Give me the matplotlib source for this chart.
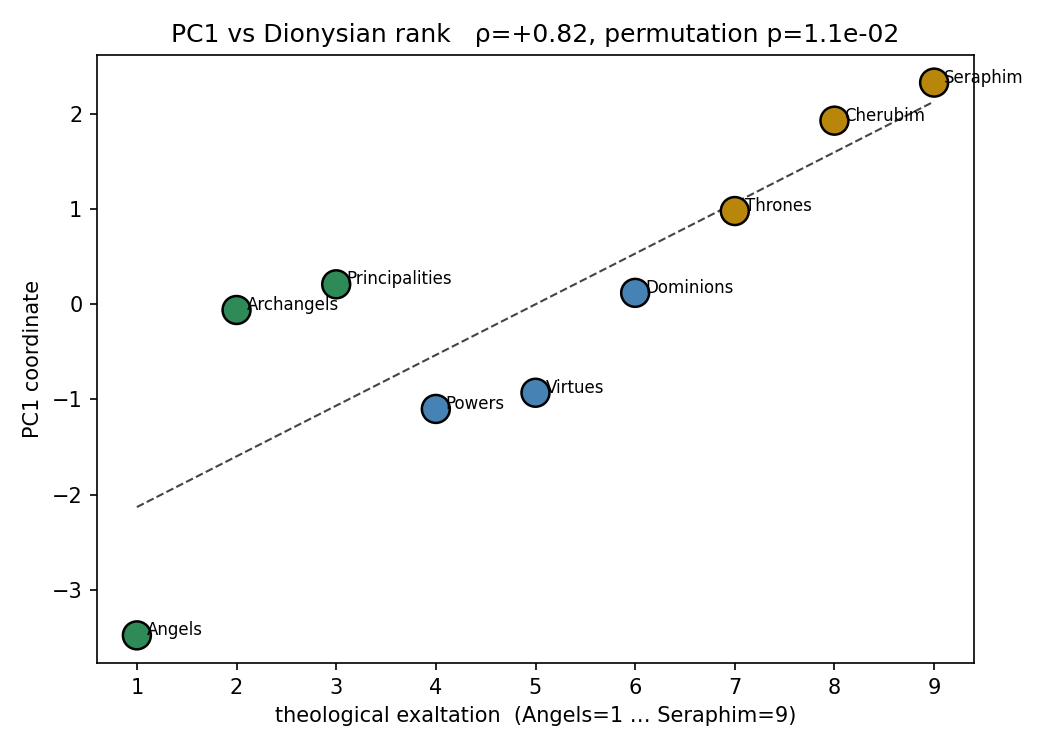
import matplotlib
matplotlib.use("Agg")
import matplotlib.pyplot as plt
import numpy as np

# choir names, rank and PC1 coordinate
names = ["Angels", "Archangels", "Principalities",
         "Powers", "Virtues", "Dominions",
         "Thrones", "Cherubim", "Seraphim"]
rank = np.array([1, 2, 3, 4, 5, 6, 7, 8, 9])
pc1 = np.array([-3.48, -0.06, 0.21, -1.10, -0.93, 0.12, 0.98, 1.93, 2.33])

# triad colours
triad_colors = ["seagreen"] * 3 + ["steelblue"] * 3 + ["darkgoldenrod"] * 3

fig, ax = plt.subplots(figsize=(7, 5), dpi=150)
fig.subplots_adjust(left=0.0924, right=0.9276, top=0.9267, bottom=0.116)

ax.scatter(rank, pc1, s=180, c=triad_colors, edgecolors="black", linewidths=1.2, zorder=3)
for x, y, n in zip(rank, pc1, names):
    ax.text(x + 0.1, y, n, fontsize=8, zorder=4)

# least squares trend line
slope, intercept = np.polyfit(rank, pc1, 1)
xs = np.array([rank.min(), rank.max()])
ax.plot(xs, slope * xs + intercept, "--", color="#444444", linewidth=1, zorder=2)

ax.set_xlabel("theological exaltation  (Angels=1 … Seraphim=9)")
ax.set_ylabel("PC1 coordinate")
ax.set_title("PC1 vs Dionysian rank   ρ=+0.82, permutation p=1.1e-02")

fig.savefig("out.png", dpi=150)
